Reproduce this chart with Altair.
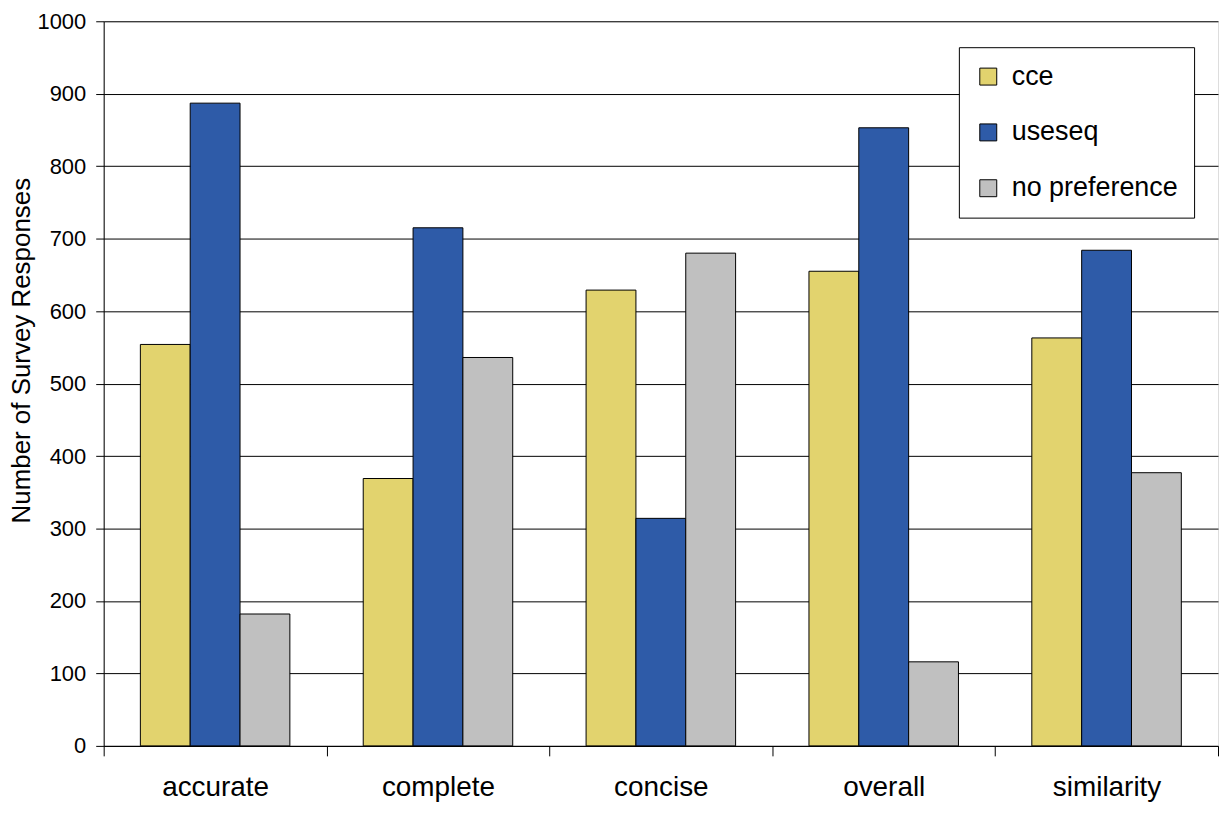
import altair as alt
import pandas as pd

categories = ["accurate", "complete", "concise", "overall", "similarity"]
series = ["cce", "useseq", "no preference"]
cce = [554, 369, 629, 655, 563]
useseq = [887, 715, 314, 853, 684]
no_pref = [182, 536, 680, 116, 377]
colors = ["#E2D36E", "#2E5BA8", "#C0C0C0"]

rows = []
for i, c in enumerate(categories):
    for s, vals in zip(series, [cce, useseq, no_pref]):
        rows.append({"category": c, "series": s, "value": vals[i]})
df = pd.DataFrame(rows)

font = "Liberation Sans"

chart = alt.Chart(df).mark_bar(stroke="black", strokeWidth=1).encode(
    x=alt.X("category:N", sort=categories, title=None,
            scale=alt.Scale(paddingInner=0, paddingOuter=0),
            axis=alt.Axis(labelAngle=0, labelFontSize=28, labelFont=font, labelColor="black",
                          labelPadding=18, tickBand="extent", tickSize=10, tickColor="black",
                          domainColor="black", grid=False)),
    xOffset=alt.XOffset("series:N", sort=series,
                        scale=alt.Scale(paddingInner=0, paddingOuter=0.736)),
    y=alt.Y("value:Q", title="Number of Survey Responses",
            scale=alt.Scale(domain=[0, 1000], nice=False),
            axis=alt.Axis(values=list(range(0, 1001, 100)), format="d",
                          labelFontSize=22, labelFont=font,
                          labelColor="black", tickSize=8, tickColor="black", domainColor="black",
                          gridColor="black", gridWidth=1, titleFontSize=26, titleFont=font,
                          titleFontWeight="normal", titleColor="black", titlePadding=2,
                          titleY=330, labelPadding=10)),
    color=alt.Color("series:N", sort=series, scale=alt.Scale(domain=series, range=colors),
                    legend=alt.Legend(title=None, orient="none", legendX=858, legendY=26,
                                      labelFontSize=27, labelFont=font, labelColor="black",
                                      symbolType="square", symbolSize=289,
                                      symbolStrokeColor="black", symbolStrokeWidth=1,
                                      symbolOpacity=1, rowPadding=28, padding=16,
                                      strokeColor="black", fillColor="white",
                                      labelOffset=10, labelLimit=300)),
).properties(
    width=1118, height=727,
    autosize=alt.AutoSizeParams(type="none"),
    padding={"left": 96, "top": 12, "right": 2, "bottom": 60},
).configure_view(stroke="#888888", strokeWidth=1.5).configure(background="white")

chart.save("out.html", embed_options={"renderer": "svg", "actions": False})
